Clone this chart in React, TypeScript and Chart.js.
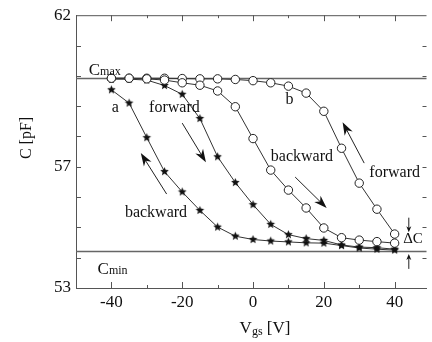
import React, { useEffect, useRef } from 'react';
import { Chart, registerables } from 'chart.js';

Chart.register(...registerables);

// ---- data ----
const vgs = [-40, -35, -30, -25, -20, -15, -10, -5, 0, 5, 10, 15, 20, 25, 30, 35, 40];
// curve a (stars)
const aForward = [59.89, 59.89, 59.86, 59.68, 59.39, 58.59, 57.33, 56.48, 55.75, 55.1, 54.76, 54.63, 54.57, 54.42, 54.35, 54.33, 54.28];
const aBackward = [59.54, 59.1, 57.96, 56.84, 56.17, 55.56, 55.01, 54.71, 54.6, 54.55, 54.52, 54.49, 54.48, 54.4, 54.32, 54.28, 54.25];
// curve b (circles)
const bBackward = [59.92, 59.92, 59.9, 59.86, 59.77, 59.69, 59.5, 58.98, 57.93, 56.89, 56.23, 55.64, 54.98, 54.66, 54.58, 54.53, 54.48];
const bForward = [59.92, 59.92, 59.92, 59.92, 59.91, 59.9, 59.9, 59.88, 59.84, 59.77, 59.66, 59.43, 58.83, 57.61, 56.46, 55.6, 54.78];

const cMax = 59.92;
const cMin = 54.22;

const xTickLabels = [-40, -20, 0, 20, 40];
const xMinorTicks = [-40, -30, -20, -10, 0, 10, 20, 30, 40];
const yTickLabels = [53, 57, 62];
const yMinorTicks = [54, 55, 56, 57, 58, 59, 60, 61];
const xMin = -50;
const xMax = 49;
const yMin = 53;
const yMax = 62;

// annotation texts (data coordinates)
const textNotes: { t: string; x: number; y: number }[] = [
  { t: 'a', x: -38.9, y: 58.93 },
  { t: 'forward', x: -22.2, y: 58.93 },
  { t: 'b', x: 10.3, y: 59.2 },
  { t: 'backward', x: -27.4, y: 55.48 },
  { t: 'backward', x: 13.8, y: 57.33 },
  { t: 'forward', x: 40, y: 56.79 },
];
// arrows: from (x1,y1) to head at (x2,y2)
const arrows: { x1: number; y1: number; x2: number; y2: number; big: boolean }[] = [
  { x1: -20, y1: 58.44, x2: -13.3, y2: 57.15, big: true },
  { x1: -24.4, y1: 56.1, x2: -31.7, y2: 57.45, big: true },
  { x1: 11.9, y1: 56.66, x2: 20.8, y2: 55.64, big: true },
  { x1: 31.4, y1: 57.12, x2: 25.3, y2: 58.47, big: true },
  { x1: 44.0, y1: 55.32, x2: 44.0, y2: 54.84, big: false },
  { x1: 44.0, y1: 53.63, x2: 44.0, y2: 54.12, big: false },
];

const FONT = '"Liberation Serif", "Times New Roman", serif';

function makeStar(r: number) {
  const c = document.createElement('canvas');
  const s = Math.ceil(r * 2 + 2);
  c.width = s;
  c.height = s;
  const g = c.getContext('2d')!;
  g.fillStyle = '#111';
  g.beginPath();
  for (let i = 0; i < 10; i++) {
    const rad = i % 2 === 0 ? r : r * 0.45;
    const a = -Math.PI / 2 + (i * Math.PI) / 5;
    const px = s / 2 + rad * Math.cos(a);
    const py = s / 2 + rad * Math.sin(a);
    if (i === 0) g.moveTo(px, py);
    else g.lineTo(px, py);
  }
  g.closePath();
  g.fill();
  return c;
}

function rich(ctx: CanvasRenderingContext2D, parts: [string, number, number][], x: number, y: number, align: 'left' | 'center') {
  let total = 0;
  parts.forEach((p) => {
    ctx.font = `${p[1]}px ${FONT}`;
    total += ctx.measureText(p[0]).width;
  });
  let cx = align === 'center' ? x - total / 2 : x;
  ctx.textAlign = 'left';
  ctx.textBaseline = 'alphabetic';
  parts.forEach((p) => {
    ctx.font = `${p[1]}px ${FONT}`;
    ctx.fillText(p[0], cx, y + p[2]);
    cx += ctx.measureText(p[0]).width;
  });
}

function drawArrow(ctx: CanvasRenderingContext2D, x1: number, y1: number, x2: number, y2: number, big: boolean) {
  const ang = Math.atan2(y2 - y1, x2 - x1);
  const hl = big ? 13 : 6;
  const hw = big ? 4.5 : 2.5;
  ctx.beginPath();
  ctx.moveTo(x1, y1);
  ctx.lineTo(x2 - Math.cos(ang) * hl * 0.6, y2 - Math.sin(ang) * hl * 0.6);
  ctx.stroke();
  ctx.save();
  ctx.translate(x2, y2);
  ctx.rotate(ang);
  ctx.beginPath();
  ctx.moveTo(0, 0);
  ctx.lineTo(-hl, -hw);
  ctx.lineTo(-hl * 0.7, 0);
  ctx.lineTo(-hl, hw);
  ctx.closePath();
  ctx.fill();
  ctx.restore();
}

const annotPlugin = {
  id: 'annot',
  beforeDraw(chart: any) {
    const { ctx, width, height } = chart;
    ctx.save();
    ctx.fillStyle = '#fff';
    ctx.fillRect(0, 0, width, height);
    ctx.restore();
  },
  beforeDatasetsDraw(chart: any) {
    const { ctx, chartArea: a, scales } = chart;
    const y = scales.y;
    ctx.save();
    ctx.strokeStyle = '#666';
    ctx.lineWidth = 1.3;
    [cMax, cMin].forEach((c) => {
      const py = Math.round(y.getPixelForValue(c)) + 0.5;
      ctx.beginPath();
      ctx.moveTo(a.left, py);
      ctx.lineTo(a.right, py);
      ctx.stroke();
    });
    ctx.restore();
  },
  afterDraw(chart: any) {
    const { ctx, chartArea: a, scales } = chart;
    const x = scales.x;
    const y = scales.y;
    ctx.save();
    ctx.strokeStyle = '#555';
    ctx.fillStyle = '#111';
    ctx.lineWidth = 1;
    // top border
    ctx.beginPath();
    ctx.moveTo(a.left, a.top + 0.5);
    ctx.lineTo(a.right, a.top + 0.5);
    ctx.stroke();
    // x ticks (inward, bottom & top)
    xMinorTicks.forEach((v) => {
      const px = Math.round(x.getPixelForValue(v)) + 0.5;
      const len = xTickLabels.includes(v) ? 6 : 3;
      ctx.beginPath();
      ctx.moveTo(px, a.bottom);
      ctx.lineTo(px, a.bottom - len);
      ctx.moveTo(px, a.top);
      ctx.lineTo(px, a.top + len);
      ctx.stroke();
    });
    // y ticks (inward, left & right)
    yMinorTicks.forEach((v) => {
      const py = Math.round(y.getPixelForValue(v)) + 0.5;
      ctx.beginPath();
      ctx.moveTo(a.left, py);
      ctx.lineTo(a.left + 5, py);
      ctx.moveTo(a.right, py);
      ctx.lineTo(a.right - 4, py);
      ctx.stroke();
    });
    // arrows
    ctx.strokeStyle = '#222';
    ctx.fillStyle = '#111';
    arrows.forEach((ar) => {
      drawArrow(ctx, x.getPixelForValue(ar.x1), y.getPixelForValue(ar.y1), x.getPixelForValue(ar.x2), y.getPixelForValue(ar.y2), ar.big);
    });
    // text notes
    ctx.fillStyle = '#111';
    ctx.font = `16px ${FONT}`;
    ctx.textAlign = 'center';
    ctx.textBaseline = 'middle';
    textNotes.forEach((n) => {
      ctx.fillText(n.t, x.getPixelForValue(n.x), y.getPixelForValue(n.y));
    });
    // Cmax / Cmin / ΔC
    rich(ctx, [['C', 17, 0], ['max', 12, 0]], x.getPixelForValue(-46.4), y.getPixelForValue(60.02), 'left');
    rich(ctx, [['C', 17, 0], ['min', 12, 0]], x.getPixelForValue(-43.9), y.getPixelForValue(53.46), 'left');
    ctx.font = `15px ${FONT}`;
    ctx.textAlign = 'center';
    ctx.textBaseline = 'middle';
    ctx.fillText('ΔC', x.getPixelForValue(45.2), y.getPixelForValue(54.6));
    // axis titles
    rich(ctx, [['V', 17, 0], ['gs', 12, 2], [' [V]', 17, 0]], 265, 333, 'center');
    ctx.save();
    ctx.translate(27, 138);
    ctx.rotate(-Math.PI / 2);
    ctx.font = `16px ${FONT}`;
    ctx.textAlign = 'center';
    ctx.textBaseline = 'middle';
    ctx.fillText('C [pF]', 0, 0);
    ctx.restore();
    ctx.restore();
  },
};

export default function App() {
  const ref = useRef<HTMLCanvasElement>(null);
  useEffect(() => {
    const star = makeStar(4.5);
    const pts = (arr: number[]) => vgs.map((v, i) => ({ x: v, y: arr[i] }));
    const starDs = (arr: number[], label: string) => ({
      label,
      data: pts(arr),
      showLine: true,
      borderColor: '#333',
      borderWidth: 1,
      pointStyle: star,
      pointRadius: 4.5,
      order: 2,
    });
    const circDs = (arr: number[], label: string) => ({
      label,
      data: pts(arr),
      showLine: true,
      borderColor: '#333',
      borderWidth: 1,
      pointStyle: 'circle',
      pointRadius: 4.2,
      pointBackgroundColor: '#fff',
      pointBorderColor: '#222',
      pointBorderWidth: 1,
      order: 1,
    });
    const chart = new Chart(ref.current!, {
      type: 'scatter',
      data: {
        datasets: [
          starDs(aForward, 'a forward') as any,
          starDs(aBackward, 'a backward') as any,
          circDs(bBackward, 'b backward') as any,
          circDs(bForward, 'b forward') as any,
        ],
      },
      options: {
        animation: false,
        responsive: false,
        devicePixelRatio: 1,
        layout: { padding: { top: 15, right: 0, left: 0, bottom: 0 } },
        plugins: { legend: { display: false }, tooltip: { enabled: false } },
        scales: {
          x: {
            type: 'linear',
            min: xMin,
            max: xMax,
            afterBuildTicks: (s: any) => {
              s.ticks = xTickLabels.map((v) => ({ value: v }));
            },
            afterFit: (s: any) => {
              s.height = 54;
            },
            ticks: {
              font: { family: FONT, size: 17 },
              color: '#111',
              padding: 4,
              maxRotation: 0,
              autoSkip: false,
              callback: (v: any) => String(v),
            },
            grid: { display: false, drawTicks: false },
            border: { display: true, color: '#555', width: 1 },
          },
          y: {
            type: 'linear',
            min: yMin,
            max: yMax,
            afterBuildTicks: (s: any) => {
              s.ticks = yTickLabels.map((v) => ({ value: v }));
            },
            afterFit: (s: any) => {
              s.width = 76;
            },
            ticks: {
              font: { family: FONT, size: 17 },
              color: '#111',
              padding: 5,
              autoSkip: false,
              callback: (v: any) => String(v),
            },
            grid: { display: false, drawTicks: false },
            border: { display: true, color: '#555', width: 1 },
          },
        },
      },
      plugins: [annotPlugin],
    });
    return () => chart.destroy();
  }, []);
  return (
    <div style={{ position: 'fixed', left: 0, top: 0, width: 432, height: 342, background: '#fff' }}>
      <canvas ref={ref} width={432} height={342} style={{ width: 432, height: 342, display: 'block' }} />
    </div>
  );
}
